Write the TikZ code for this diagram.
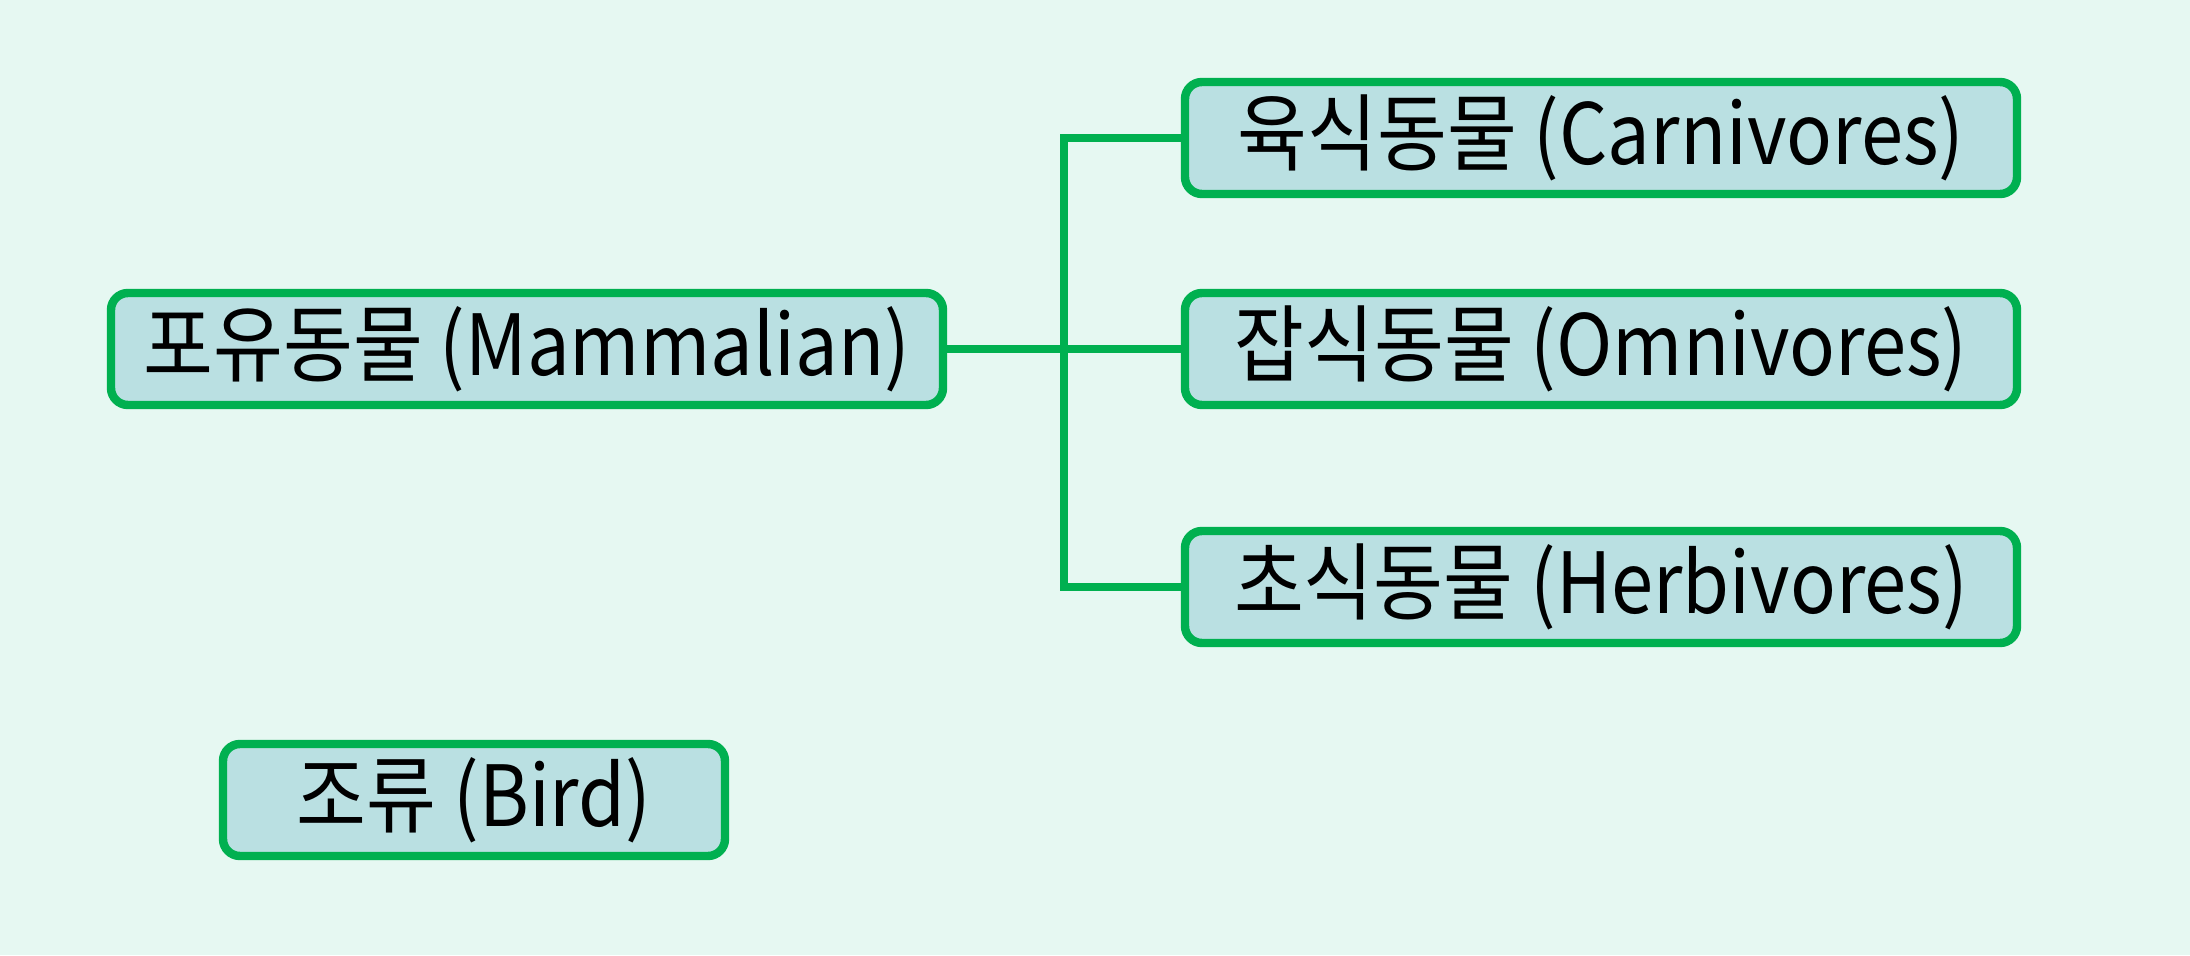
\documentclass[tikz,border=0pt]{standalone}
\usepackage{fontspec}
\newfontfamily\kr[FakeStretch=0.9]{Noto Sans CJK KR}
\definecolor{bgmint}{HTML}{E6F8F2}
\definecolor{boxfill}{HTML}{BAE0E2}
\definecolor{linegreen}{HTML}{00B050}

\begin{document}
\begin{tikzpicture}[box/.style={rectangle,draw=linegreen,fill=boxfill,line width=2.4pt,rounded corners=0.17cm,minimum height=1.12cm,minimum width=8.32cm,inner sep=0pt,font=\kr\fontsize{24}{28}\selectfont}]
\fill [bgmint] (0,0) rectangle (21.9,9.55);
\useasboundingbox (0,0) rectangle (21.9,9.55);
\node [box] (mammal) at (5.27,6.06) {포유동물 (Mammalian)};
\node [box] (carni) at (16.01,8.17) {육식동물 (Carnivores)};
\node [box] (omni) at (16.01,6.06) {잡식동물 (Omnivores)};
\node [box] (herbi) at (16.01,3.68) {초식동물 (Herbivores)};
\node [box,minimum width=5.02cm] (bird) at (4.74,1.55) {조류 (Bird)};
\coordinate (split) at (10.64,6.06);
\draw [linegreen,line width=2.4pt] (mammal) -- (omni);
\draw [linegreen,line width=2.4pt] (carni.west) -| (split) |- (herbi.west);
\end{tikzpicture}
\end{document}
